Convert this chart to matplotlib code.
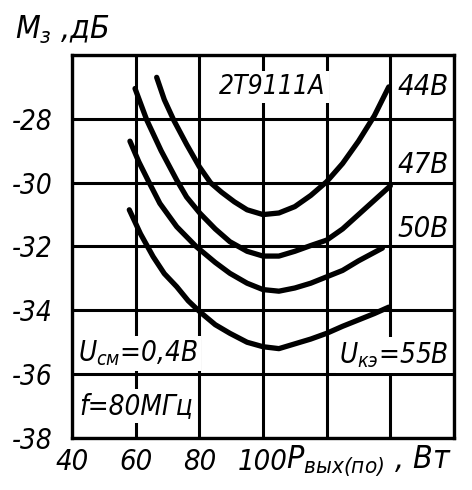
import matplotlib
matplotlib.use("Agg")
import matplotlib.pyplot as plt
from matplotlib import font_manager

# данные
p_44 = [66.6, 69, 72, 76, 80, 83.5, 87, 91, 95, 100, 105, 110, 115, 120, 125, 130, 135, 139.5]
m_44 = [-26.7, -27.4, -28.05, -28.8, -29.5, -30.0, -30.3, -30.6, -30.85, -31.0, -30.95, -30.75,
        -30.4, -29.97, -29.4, -28.7, -27.9, -27.0]

p_47 = [59.8, 63.5, 68, 72.9, 76, 80.2, 85, 89.6, 95, 100, 105, 110, 115, 120, 125, 130, 135, 140]
m_47 = [-27.05, -28.04, -29.0, -29.92, -30.45, -30.96, -31.45, -31.85, -32.15, -32.3, -32.3,
        -32.15, -31.97, -31.8, -31.45, -31.0, -30.55, -30.1]

p_50 = [58.2, 61, 64, 67.6, 72.9, 79, 85, 89.6, 95, 100, 105, 110, 115, 120, 125, 130, 137.5]
m_50 = [-28.7, -29.35, -29.95, -30.65, -31.38, -32.0, -32.5, -32.84, -33.15, -33.35, -33.4,
        -33.3, -33.15, -32.95, -32.75, -32.45, -32.05]

p_55 = [58, 61.5, 65.5, 69, 72.9, 76.5, 80.2, 85, 89.6, 95, 100, 105, 110, 115, 120, 125, 130, 135, 139.5]
m_55 = [-30.85, -31.6, -32.32, -32.85, -33.26, -33.7, -34.05, -34.45, -34.72, -35.0, -35.14,
        -35.2, -35.05, -34.9, -34.72, -34.5, -34.3, -34.1, -33.9]

x_ticks = [40, 60, 80, 100, 120, 140, 160]
x_labels = ["40", "60", "80", "100", "", "", ""]
y_ticks = [-38, -36, -34, -32, -30, -28, -26]
y_labels = ["-38", "-36", "-34", "-32", "-30", "-28", ""]

curves = [(p_44, m_44), (p_47, m_47), (p_50, m_50), (p_55, m_55)]

# узкий шрифт, если найдётся
fonts = font_manager.fontManager.ttflist
names = {f.name for f in fonts}
if "Liberation Sans Narrow" in names:
    family, stretch = "Liberation Sans Narrow", "normal"
elif any(f.name == "DejaVu Sans" and f.stretch == "condensed" for f in fonts):
    family, stretch = "DejaVu Sans", "condensed"
elif "Roboto Condensed" in names:
    family, stretch = "Roboto Condensed", "normal"
else:
    family, stretch = "Roboto", "normal"

plt.rcParams["font.family"] = family
plt.rcParams["font.style"] = "italic"
plt.rcParams["font.stretch"] = stretch
plt.rcParams["mathtext.fontset"] = "custom"
plt.rcParams["mathtext.it"] = f"{family}:italic:stretch={stretch}"
plt.rcParams["mathtext.rm"] = f"{family}:italic:stretch={stretch}"

fig = plt.figure(figsize=(4.72, 4.90), dpi=100)
ax = fig.add_axes([72 / 472, 1 - 438 / 490, 382 / 472, 383 / 490])

for p, m in curves:
    ax.plot(p, m, color="black", lw=3.8, solid_capstyle="round", zorder=3)

ax.set_xlim(40, 160)
ax.set_ylim(-38, -26)
ax.set_xticks(x_ticks)
ax.set_xticklabels(x_labels, fontsize=21)
ax.set_yticks(y_ticks)
ax.set_yticklabels(y_labels, fontsize=20)
ax.tick_params(length=0)
ax.tick_params(axis="x", pad=7)
ax.tick_params(axis="y", pad=14)
ax.grid(True, color="black", lw=2.2)
ax.set_axisbelow(True)
for s in ax.spines.values():
    s.set_linewidth(2.4)

box = dict(facecolor="white", edgecolor="none", pad=2)

ax.text(103, -27.0, "2Т9111А", fontsize=19, ha="center", va="center", bbox=box, zorder=2)
ax.text(150.3, -27.0, "44В", fontsize=21, ha="center", va="center")
ax.text(150.3, -29.45, "47В", fontsize=21, ha="center", va="center")
ax.text(150.3, -31.45, "50В", fontsize=21, ha="center", va="center")
ax.text(158.3, -35.4, "$U_{кэ}$=55В", fontsize=20, ha="right", va="center", bbox=box, zorder=2)
ax.text(41.8, -35.35, "$U_{см}$=0,4В", fontsize=20, ha="left", va="center", bbox=box, zorder=2)
ax.text(42.3, -37.0, "f=80МГц", fontsize=20, ha="left", va="center", bbox=box, zorder=2)

fig.text(15 / 472, 1 - 30 / 490, "$M_{з}$ ,дБ", fontsize=23, ha="left", va="center")
ax.annotate("$P_{вых(по)}$ , Вт", xy=(107.3, -38), xytext=(0, -4), textcoords="offset points",
            fontsize=23, ha="left", va="top", annotation_clip=False)

fig.savefig("out.png", dpi=100)
